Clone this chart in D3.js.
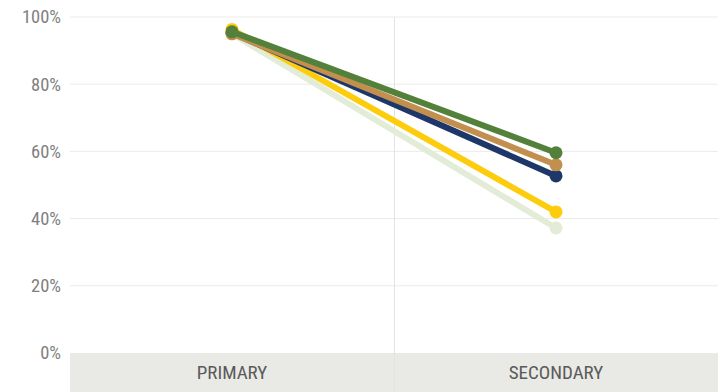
<!DOCTYPE html>
<html>
<head>
<meta charset="utf-8">
<script src="https://cdn.jsdelivr.net/npm/d3@7"></script>
<style>
  body { margin: 0; background: #fff; }
  svg { display: block; font-family: "Liberation Sans Narrow", "Roboto Condensed", Roboto, sans-serif; }
</style>
</head>
<body>
<div id="chart"></div>
<script>
const stages = ['PRIMARY', 'SECONDARY'];
const seriesNames = ['Light green', 'Yellow', 'Navy', 'Tan', 'Green'];
const seriesColors = ['#e2ecd7', '#fdcc0d', '#1d3768', '#c38f4f', '#53803a'];
const primaryValues = [95.0, 96.3, 95.3, 95.0, 95.6];
const secondaryValues = [37.2, 42.0, 52.7, 56.0, 59.6];
const yTicks = [0, 20, 40, 60, 80, 100];

const width = 718;
const height = 392;
const margin = { top: 17, right: 0, bottom: 39, left: 70 };

const svg = d3.select('#chart')
    .append('svg')
    .attr('width', width)
    .attr('height', height);

const xScale = d3.scaleBand()
    .domain(stages)
    .range([margin.left, width - margin.right]);

const yScale = d3.scaleLinear()
    .domain([0, 100])
    .range([height - margin.bottom, margin.top]);

// category band at the bottom
svg.append('rect')
    .attr('x', margin.left)
    .attr('y', yScale(0))
    .attr('width', width - margin.left - margin.right)
    .attr('height', margin.bottom)
    .attr('fill', '#e9e9e5');

// gridlines
svg.append('g')
    .selectAll('line')
    .data(yTicks.filter(d => d > 0))
    .join('line')
    .attr('x1', margin.left)
    .attr('x2', width - margin.right)
    .attr('y1', d => yScale(d))
    .attr('y2', d => yScale(d))
    .attr('stroke', '#ebebeb')
    .attr('stroke-width', 1);

// divider between categories
svg.append('line')
    .attr('x1', xScale('SECONDARY') + 0.5)
    .attr('x2', xScale('SECONDARY') + 0.5)
    .attr('y1', yScale(100))
    .attr('y2', height)
    .attr('stroke', '#e3e3e3');

// y axis labels
svg.append('g')
    .selectAll('text')
    .data(yTicks)
    .join('text')
    .attr('x', 61)
    .attr('y', d => yScale(d))
    .attr('dy', '0.35em')
    .attr('text-anchor', 'end')
    .attr('fill', '#808080')
    .style('font-size', '18.5px')
    .text(d => d + '%');

// x labels
svg.append('g')
    .selectAll('text')
    .data(stages)
    .join('text')
    .attr('x', d => xScale(d) + xScale.bandwidth() / 2)
    .attr('y', yScale(0) + margin.bottom / 2)
    .attr('dy', '0.35em')
    .attr('text-anchor', 'middle')
    .attr('fill', '#5a5a5a')
    .style('font-size', '19px')
    .text(d => d);

const series = seriesNames.map((name, i) => ({
    name,
    color: seriesColors[i],
    values: [primaryValues[i], secondaryValues[i]],
}));

const cx = (j) => xScale(stages[j]) + xScale.bandwidth() / 2;

const line = d3.line()
    .x((d, j) => cx(j))
    .y(d => yScale(d));

const groups = svg.append('g')
    .selectAll('g')
    .data(series)
    .join('g');

groups.append('path')
    .attr('d', d => line(d.values))
    .attr('fill', 'none')
    .attr('stroke', d => d.color)
    .attr('stroke-width', 6);

groups.selectAll('circle')
    .data(d => d.values.map(v => ({ v, color: d.color })))
    .join('circle')
    .attr('cx', (d, j) => cx(j))
    .attr('cy', d => yScale(d.v))
    .attr('r', 6.5)
    .attr('fill', d => d.color);
</script>
</body>
</html>
